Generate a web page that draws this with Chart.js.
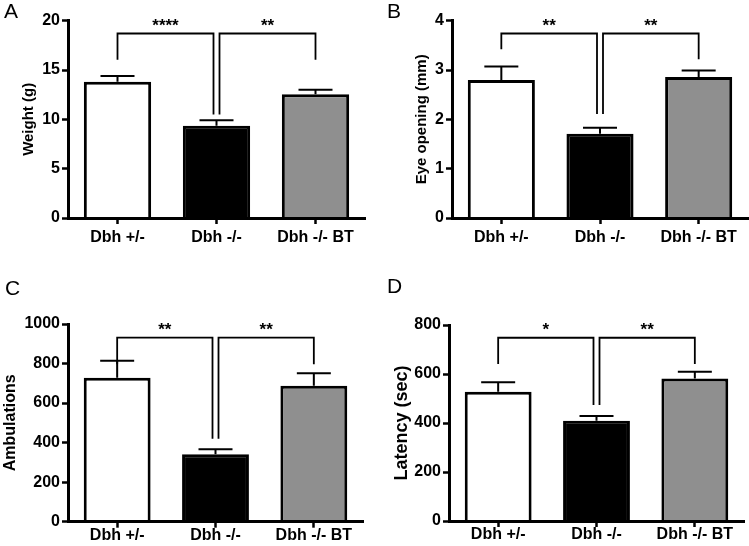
<!DOCTYPE html>
<html><head><meta charset="utf-8">
<script src="https://cdn.jsdelivr.net/npm/chart.js@4.4.1/dist/chart.umd.min.js"></script>
<style>
html,body{margin:0;padding:0;background:#fff;width:749px;height:546px;overflow:hidden;}
.panel{position:absolute;width:374px;height:273px;}
.letter{position:absolute;font-family:"Liberation Sans",Arial,sans-serif;font-size:21px;line-height:21px;color:#000;}
</style></head><body>
<div class="panel" style="left:0;top:0"><canvas id="cA" width="374" height="273"></canvas></div>
<div class="panel" style="left:375px;top:0"><canvas id="cB" width="374" height="273"></canvas></div>
<div class="panel" style="left:0;top:273px"><canvas id="cC" width="374" height="273"></canvas></div>
<div class="panel" style="left:375px;top:273px"><canvas id="cD" width="374" height="273"></canvas></div>
<div class="letter" style="left:4px;top:0px">A</div>
<div class="letter" style="left:387px;top:0px">B</div>
<div class="letter" style="left:5px;top:277px">C</div>
<div class="letter" style="left:387px;top:275px">D</div>
<script>
// ---- data ----
const categories = ['Dbh +/-', 'Dbh -/-', 'Dbh -/- BT'];

const weightMean = [13.8, 9.35, 12.55];
const weightSem  = [0.6, 0.57, 0.45];
const weightTicks = {max: 20, step: 5};
// [fromIndex, toIndex, topValue, leftLegEnd, rightLegEnd, label]
const weightBrackets = [[0, 1, 18.7, 16.05, 10.5, '****'], [1, 2, 18.7, 10.5, 16.05, '**']];

const eyeMean = [2.80, 1.71, 2.86];
const eyeSem  = [0.27, 0.12, 0.13];
const eyeTicks = {max: 4, step: 1};
const eyeBrackets = [[0, 1, 3.74, 3.42, 2.11, '**'], [1, 2, 3.74, 2.11, 3.22, '**']];

const ambMean = [728, 341, 688];
const ambSem  = [86, 25, 63];
const ambTicks = {max: 1000, step: 200};
const ambBrackets = [[0, 1, 931, 796, 420, '**'], [1, 2, 931, 420, 796, '**']];

const latMean = [528, 409, 582];
const latSem  = [38, 20, 27];
const latTicks = {max: 800, step: 200};
const latBrackets = [[0, 1, 748, 641, 473, '*'], [1, 2, 748, 473, 641, '**']];

const barColors = ['#ffffff', '#000000', '#8f8f8f'];

Chart.defaults.font.family = '"Liberation Sans", Arial, sans-serif';
Chart.defaults.color = '#000';

const sigPlugin = {
  id: 'sig',
  afterDatasetsDraw(chart, args, opts) {
    const ctx = chart.ctx;
    const xs = chart.scales.x, ys = chart.scales.y;
    const meta = chart.getDatasetMeta(0);
    ctx.save();
    ctx.strokeStyle = '#000';
    ctx.lineWidth = 2;
    opts.mean.forEach((m, i) => {
      const x = meta.data[i].x;
      const y0 = ys.getPixelForValue(m);
      const y1 = ys.getPixelForValue(m + opts.sem[i]);
      ctx.beginPath();
      ctx.moveTo(x, y0); ctx.lineTo(x, y1);
      ctx.moveTo(x - 17, y1); ctx.lineTo(x + 17, y1);
      ctx.stroke();
    });
    ctx.lineWidth = 1.8;
    ctx.fillStyle = '#000';
    ctx.font = 'bold 17px "Liberation Sans", Arial, sans-serif';
    ctx.textAlign = 'center';
    ctx.textBaseline = 'alphabetic';
    opts.brackets.forEach(b => {
      const x1 = xs.getPixelForValue(b[0]) + (b[0] === 1 ? 3 : 0);
      const x2 = xs.getPixelForValue(b[1]) - (b[1] === 1 ? 3 : 0);
      const yt = ys.getPixelForValue(b[2]);
      const yl = ys.getPixelForValue(b[3]);
      const yr = ys.getPixelForValue(b[4]);
      ctx.beginPath();
      ctx.moveTo(x1, yl); ctx.lineTo(x1, yt); ctx.lineTo(x2, yt); ctx.lineTo(x2, yr);
      ctx.stroke();
      ctx.fillText(b[5], (x1 + x2) / 2, yt - 3);
    });
    ctx.restore();
  }
};

function makeChart(id, mean, sem, ticks, brackets, title, geo) {
  return new Chart(document.getElementById(id), {
    type: 'bar',
    data: {
      labels: categories,
      datasets: [{
        data: mean,
        backgroundColor: barColors,
        borderColor: '#000',
        borderWidth: 3,
        borderSkipped: 'start',
        barPercentage: 0.68,
        categoryPercentage: 1
      }]
    },
    options: {
      responsive: false,
      animation: false,
      events: [],
      layout: {padding: {top: geo.top, right: geo.right, left: 0, bottom: 0}},
      plugins: {
        legend: {display: false},
        tooltip: {enabled: false},
        sig: {mean: mean, sem: sem, brackets: brackets}
      },
      scales: {
        x: {
          afterFit: s => { s.height = geo.xh; },
          grid: {display: true, drawOnChartArea: false, drawTicks: true, tickLength: 6, tickWidth: 2.5, tickColor: '#000', offset: false},
          border: {display: true, color: '#000', width: 3, z: 1},
          ticks: {font: {size: 16, weight: 'bold'}, color: '#000', padding: geo.xp, maxRotation: 0, autoSkip: false}
        },
        y: {
          min: 0, max: ticks.max,
          afterFit: s => { s.width = geo.yw; },
          grid: {display: true, drawOnChartArea: false, drawTicks: true, tickLength: 6, tickWidth: 2.5, tickColor: '#000'},
          border: {display: true, color: '#000', width: 3, z: 1},
          ticks: {stepSize: ticks.step, font: {size: 16, weight: 'bold'}, color: '#000', padding: 2, callback: v => String(v)},
          title: {display: true, text: title, font: {size: geo.ts, weight: 'bold'}, color: '#000', padding: {top: geo.tp, bottom: 0}}
        }
      }
    },
    plugins: [sigPlugin]
  });
}

makeChart('cA', weightMean, weightSem, weightTicks, weightBrackets, 'Weight (g)', {top: 20.7, right: 9, xh: 55, yw: 68, tp: 20, ts: 15, xp: 4});
makeChart('cB', eyeMean, eyeSem, eyeTicks, eyeBrackets, 'Eye opening (mm)', {top: 20.7, right: 1, xh: 55, yw: 77, tp: 38, ts: 15, xp: 4});
makeChart('cC', ambMean, ambSem, ambTicks, ambBrackets, 'Ambulations', {top: 51, right: 11, xh: 24.3, yw: 68, tp: 1, ts: 16, xp: -2});
makeChart('cD', latMean, latSem, latTicks, latBrackets, 'Latency (sec)', {top: 52, right: 5, xh: 25, yw: 74, tp: 16, ts: 18, xp: -2});
</script>
</body></html>
